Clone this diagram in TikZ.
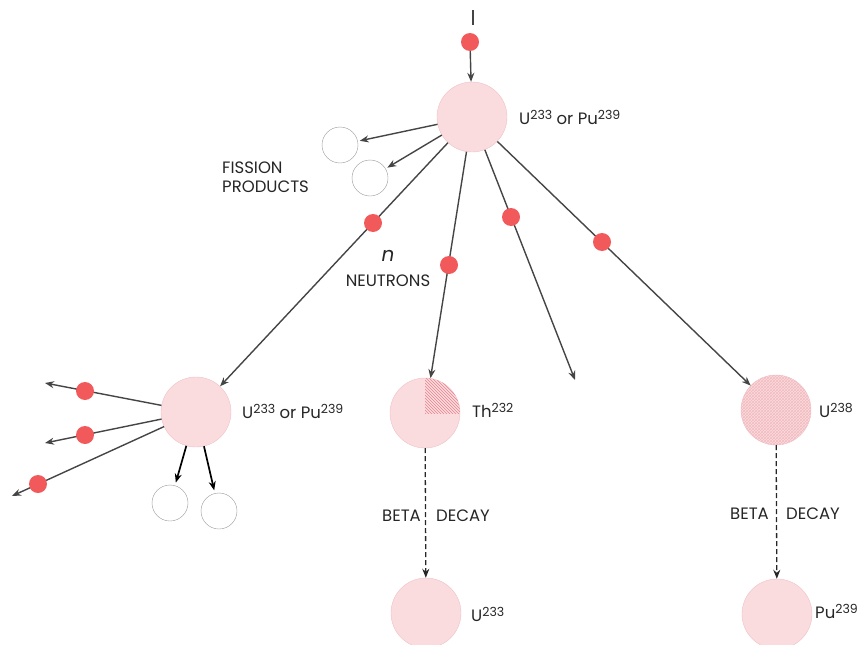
\documentclass[tikz,border=0pt]{standalone}
\usepackage{fontspec}
\setmainfont{Poppins}
\usetikzlibrary{arrows.meta,patterns}
\definecolor{nucfill}{HTML}{FADCDF}
\definecolor{nucedge}{HTML}{EEC0C5}
\definecolor{neutred}{HTML}{F2595B}
\definecolor{hatchred}{HTML}{E8848C}
\definecolor{linegray}{HTML}{454545}
\newcommand{\mass}[1]{\raisebox{0.55ex}{\fontsize{12.5}{12.5}\selectfont#1}}
\begin{document}
\begin{tikzpicture}[x=1pt,y=-1pt]
			\tikzset{nucleus/.style={circle,draw=nucedge,fill=nucfill,minimum size=70pt,inner sep=0pt},
				product/.style={circle,draw=gray!80,fill=white,minimum size=36pt,inner sep=0pt},
				neutron/.style={circle,fill=neutred,minimum size=18pt,inner sep=0pt},
				lbl/.style={font=\fontsize{16.5}{19}\selectfont,text=black!85,inner sep=0pt},
				ray/.style={draw=linegray,line width=1.4pt,-{Stealth[length=9pt,width=7pt]}},
				decay/.style={draw=black!85,line width=1.3pt,dash pattern=on 5pt off 3pt,-{Stealth[length=9pt,width=7pt]}}}
			\useasboundingbox (0,0) rectangle (857,645);
			% nuclei
			\node[nucleus] (main) at (472,117) {};
			\node[nucleus] (left) at (196,412) {};
			\node[nucleus] (th) at (425,413) {};
			\node[nucleus] (u238) at (776,410) {};
			\node[nucleus] (u233) at (426,613) {};
			\node[nucleus] (pu) at (777,614) {};
			\begin{scope}
				\clip (th) circle (35);
				\fill[pattern=north west lines,pattern color=hatchred] (425,413) rectangle (462,376);
			\end{scope}
			\fill[pattern=crosshatch,pattern color=hatchred!55] (u238) circle (35);
			% fission products
			\node[product] (fp1) at (340,145) {};
			\node[product] (fp2) at (370,178) {};
			\node[product] (fp3) at (170,503) {};
			\node[product] (fp4) at (219,511) {};
			\coordinate (in) at (473,10);
			\coordinate (free) at (575,380);
			\coordinate (out1) at (45,383);
			\coordinate (out2) at (45,443);
			\coordinate (out3) at (12,496);
			% connectors
			\draw[linegray,line width=1.4pt] (in) -- +(0,15);
			\node[neutron] (d0) at (470,42) {};
			\draw[ray] (d0) -- (main);
			\draw[ray,shorten >=2pt] (main) -- (fp1);
			\draw[ray,shorten >=2pt] (main) -- (fp2);
			\draw[ray] (main) -- (left);
			\draw[ray] (main) -- (th);
			\draw[ray] (main) -- (free);
			\draw[ray] (main) -- (u238);
			\draw[ray] (left) -- (out1);
			\draw[ray] (left) -- (out2);
			\draw[ray] (left) -- (out3);
			\draw[ray,draw=black,line width=1.7pt,shorten >=3pt] (left) -- (fp3);
			\draw[ray,draw=black,line width=1.7pt,shorten >=3pt] (left) -- (fp4);
			\draw[decay] (th) -- (u233);
			\draw[decay] (u238) -- (pu);
			% neutrons on the way
			\node[neutron] (d1) at (373,223) {};
			\node[neutron] (d2) at (449,265) {};
			\node[neutron] (d3) at (511,217) {};
			\node[neutron] (d4) at (602,242) {};
			\node[neutron] (d5) at (85,391) {};
			\node[neutron] (d6) at (85,435) {};
			\node[neutron] (d7) at (38,484) {};
			% labels
			\node[lbl,anchor=west] (lmain) at (519,117) {U\mass{233} or Pu\mass{239}};
			\node[lbl,anchor=west] (lleft) at (242,411) {U\mass{233} or Pu\mass{239}};
			\node[lbl,anchor=west] (lth) at (472,410) {Th\mass{232}};
			\node[lbl,anchor=west] (lu238) at (819,410) {U\mass{238}};
			\node[lbl,anchor=west] (lu233) at (471,614) {U\mass{233}};
			\node[lbl,anchor=west] (lpu) at (815,611) {Pu\mass{239}};
			\node[lbl,anchor=north west,align=left] (lfp) at (222,162) {FISSION\\PRODUCTS};
			\node[lbl,font=\fontsize{20}{20}\selectfont\itshape] (ln) at (388,256) {n};
			\node[lbl] (lneut) at (388,281) {NEUTRONS};
			\node[lbl,anchor=east] (b1) at (421,516) {BETA};
			\node[lbl,anchor=west] (c1) at (436,516) {DECAY};
			\node[lbl,anchor=east] (b2) at (769,514) {BETA};
			\node[lbl,anchor=west] (c2) at (786,514) {DECAY};
\end{tikzpicture}
\end{document}
